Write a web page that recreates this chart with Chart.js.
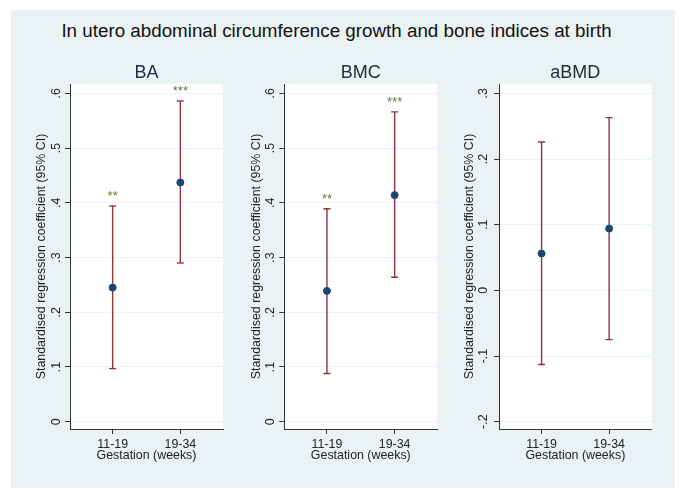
<!DOCTYPE html>
<html>
<head>
<meta charset="utf-8">
<title>In utero abdominal circumference growth and bone indices at birth</title>
<script src="https://cdn.jsdelivr.net/npm/chart.js@4.4.0/dist/chart.umd.min.js"></script>
<style>
    body { margin: 0; background: #ffffff; }
    #wrap { position: relative; width: 685px; height: 499px; overflow: hidden; }
    #panelBg { position: absolute; left: 11px; top: 10px; width: 664px; height: 478px; background: #eaf2f3; }
    #mainTitle {
        position: absolute; left: -6px; top: 20px; width: 685px; line-height: 20px;
        text-align: center; font: 18.8px "Liberation Sans", Arial, sans-serif; color: #111111;
    }
    canvas { position: absolute; left: 0; top: 0; }
</style>
</head>
<body>
<div id="wrap">
    <div id="panelBg"></div>
    <div id="mainTitle">In utero abdominal circumference growth and bone indices at birth</div>
    <canvas id="baChart" width="685" height="499"></canvas>
    <canvas id="bmcChart" width="685" height="499"></canvas>
    <canvas id="abmdChart" width="685" height="499"></canvas>
</div>

<script>
// ======================================================
// Data
// ======================================================

const categories = ["11-19", "19-34"];

const baEstimate = [0.245, 0.437];
const baLower = [0.097, 0.290];
const baUpper = [0.394, 0.586];
const baStars = ["**", "***"];

const bmcEstimate = [0.239, 0.414];
const bmcLower = [0.088, 0.264];
const bmcUpper = [0.389, 0.566];
const bmcStars = ["**", "***"];

const abmdEstimate = [0.056, 0.094];
const abmdLower = [-0.113, -0.075];
const abmdUpper = [0.226, 0.263];
const abmdStars = ["", ""];

const boneTicks = [0, 0.1, 0.2, 0.3, 0.4, 0.5, 0.6];
const boneTickLabels = ["0", ".1", ".2", ".3", ".4", ".5", ".6"];

const abmdTicks = [-0.2, -0.1, 0, 0.1, 0.2, 0.3];
const abmdTickLabels = ["-.2", "-.1", "0", ".1", ".2", ".3"];

// ======================================================
// Styles
// ======================================================

const FONT = '"Liberation Sans", Arial, sans-serif';
const NAVY = "#1a476f";
const MAROON = "#90353b";
const STAR_GREEN = "#5f7a3a";
const GRID = "#eaf2f3";
const AXIS = "#333333";

// ======================================================
// Panel decoration: white plot region, subtitle,
// rotated y tick labels, significance stars
// ======================================================

const panelDecor = {
    id: "panelDecor",

    beforeDraw(chart) {
        const { ctx, chartArea: a } = chart;
        ctx.save();
        ctx.fillStyle = "#ffffff";
        ctx.fillRect(a.left, a.top, a.right - a.left, a.bottom - a.top);
        ctx.restore();
    },

    afterDraw(chart, args, opts) {
        const { ctx, chartArea: a } = chart;
        const xScale = chart.scales.x;
        const yScale = chart.scales.y;

        ctx.save();

        // subtitle
        ctx.fillStyle = "#1c2b3f";
        ctx.font = "18px " + FONT;
        ctx.textAlign = "center";
        ctx.textBaseline = "middle";
        ctx.fillText(opts.name, (a.left + a.right) / 2, a.top - 11);

        // y tick labels, vertical like Stata
        ctx.fillStyle = "#222222";
        ctx.font = "12.4px " + FONT;
        opts.ticks.forEach((v, i) => {
            const y = yScale.getPixelForValue(v);
            ctx.save();
            ctx.translate(a.left - opts.labelGap, y);
            ctx.rotate(-Math.PI / 2);
            ctx.fillText(opts.tickLabels[i], 0, 0);
            ctx.restore();
        });

        // stars above upper CI
        ctx.fillStyle = STAR_GREEN;
        ctx.font = "13px " + FONT;
        ctx.textBaseline = "alphabetic";
        opts.stars.forEach((s, i) => {
            if (!s) return;
            const x = xScale.getPixelForValue(i + 1);
            const y = yScale.getPixelForValue(opts.upper[i]) - 13;
            ctx.fillText(s, x, y + 7);
        });

        ctx.restore();
    }
};

// ======================================================
// Panel builder
// ======================================================

function createPanel(canvasId, name, estimate, lower, upper, stars, ticks, tickLabels, yMin, yMax, layout) {

    let ctx = document.getElementById(canvasId);

    let datasets = [{
        label: "Estimate",
        data: estimate.map((v, i) => ({ x: i + 1, y: v })),
        pointRadius: 3.5,
        pointBackgroundColor: NAVY,
        pointBorderColor: NAVY,
        pointBorderWidth: 1
    }];

    categories.forEach((c, i) => {
        datasets.push({
            label: "95% CI " + c,
            data: [{ x: i + 1, y: lower[i] }, { x: i + 1, y: upper[i] }],
            showLine: true,
            borderColor: MAROON,
            borderWidth: 1.4,
            pointStyle: "line",
            pointRadius: 3.5,
            pointBorderColor: MAROON,
            pointBorderWidth: 1.4
        });
    });

    new Chart(ctx, {
        type: "scatter",
        data: { datasets: datasets },
        plugins: [panelDecor],
        options: {
            responsive: false,
            animation: false,
            events: [],
            layout: {
                padding: { left: layout.left, right: layout.right, top: 84, bottom: 36 }
            },
            plugins: {
                legend: { display: false },
                title: { display: false },
                tooltip: { enabled: false },
                panelDecor: {
                    name: name,
                    ticks: ticks,
                    tickLabels: tickLabels,
                    stars: stars,
                    upper: upper,
                    labelGap: layout.labelGap
                }
            },
            scales: {
                x: {
                    type: "linear",
                    min: 0.37,
                    max: 2.63,
                    afterBuildTicks: (scale) => {
                        scale.ticks = categories.map((c, i) => ({ value: i + 1 }));
                    },
                    afterFit: (scale) => { scale.height = 34; },
                    ticks: {
                        color: "#222222",
                        font: { family: FONT, size: 12.4 },
                        padding: 3,
                        maxRotation: 0,
                        callback: (value) => categories[value - 1]
                    },
                    grid: {
                        drawOnChartArea: false,
                        drawTicks: true,
                        tickLength: 5,
                        tickColor: AXIS
                    },
                    border: { display: true, color: AXIS, width: 1 },
                    title: {
                        display: true,
                        text: "Gestation (weeks)",
                        color: "#222222",
                        font: { family: FONT, size: 12.4 },
                        padding: { top: 0, bottom: 0 }
                    }
                },
                y: {
                    type: "linear",
                    min: yMin,
                    max: yMax,
                    afterBuildTicks: (scale) => {
                        scale.ticks = ticks.map(v => ({ value: v }));
                    },
                    afterFit: (scale) => { scale.width = layout.width; },
                    ticks: { display: false },
                    grid: {
                        color: GRID,
                        lineWidth: 1,
                        drawTicks: true,
                        tickLength: 5,
                        tickColor: AXIS
                    },
                    border: { display: true, color: AXIS, width: 1 },
                    title: {
                        display: true,
                        text: "Standardised regression coefficient (95% CI)",
                        color: "#222222",
                        font: { family: FONT, size: 12.4 },
                        padding: { top: 0, bottom: 0 }
                    }
                }
            }
        }
    });

}

// ======================================================
// Build
// ======================================================

createPanel("baChart", "BA", baEstimate, baLower, baUpper, baStars,
    boneTicks, boneTickLabels, -0.0133, 0.617,
    { left: 34.5, right: 462, width: 35.5, labelGap: 13.3 });

createPanel("bmcChart", "BMC", bmcEstimate, bmcLower, bmcUpper, bmcStars,
    boneTicks, boneTickLabels, -0.0133, 0.617,
    { left: 249.3, right: 247.7, width: 35, labelGap: 13.6 });

createPanel("abmdChart", "aBMD", abmdEstimate, abmdLower, abmdUpper, abmdStars,
    abmdTicks, abmdTickLabels, -0.2111, 0.3142,
    { left: 462, right: 33.3, width: 37, labelGap: 15 });
</script>
</body>
</html>
